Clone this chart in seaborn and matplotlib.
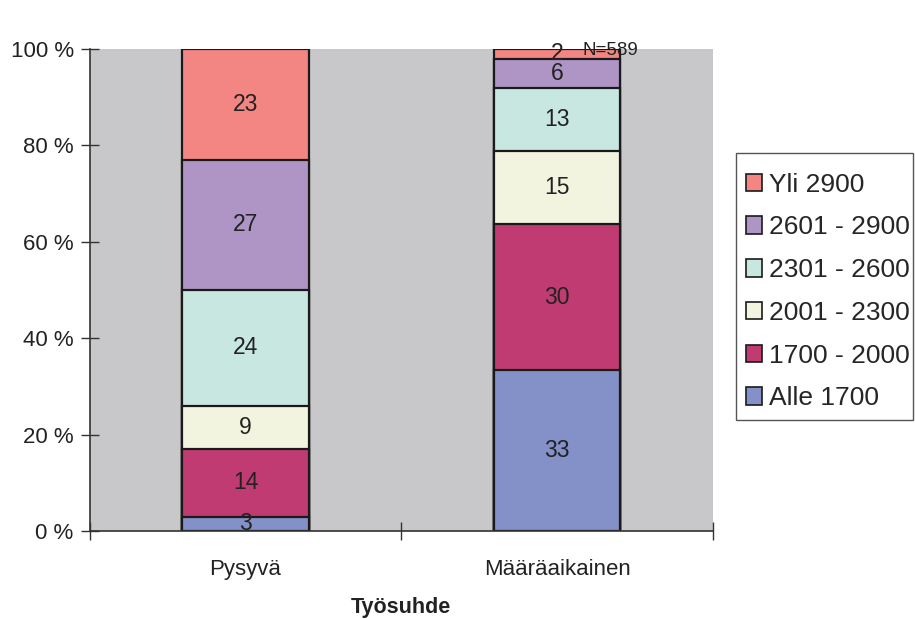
import numpy as np
import pandas as pd
import seaborn as sns
import matplotlib.pyplot as plt
from matplotlib.patches import Patch, Rectangle

# veriler
kategoriat = ["Pysyvä", "Määräaikainen"]
gruplar = ["Alle 1700", "1700 - 2000", "2001 - 2300", "2301 - 2600", "2601 - 2900", "Yli 2900"]
pysyva = [3, 14, 9, 24, 27, 23]
maaraaikainen = [33, 30, 15, 13, 6, 2]
renkler = ["#8490C8", "#C03B71", "#F3F4E0", "#C8E7E1", "#AE95C6", "#F38682"]

sns.set_style("white")
plt.rcParams["font.family"] = ["Liberation Sans", "DejaVu Sans"]

fig = plt.figure(figsize=(9.15, 6.19), dpi=100)
ax = fig.add_axes([0.098, 0.142, 0.681, 0.779])
ax.set_facecolor("#C8C8CA")

# yüzdeye çevir
veri = np.array([pysyva, maaraaikainen], dtype=float)
yuzde = veri / veri.sum(axis=1, keepdims=True) * 100
kumulatif = yuzde.cumsum(axis=1)

df = pd.DataFrame(kumulatif, columns=gruplar)
df["Tyosuhde"] = kategoriat

# üstten alta çiz (yığılmış)
for i in range(len(gruplar) - 1, -1, -1):
    sns.barplot(x="Tyosuhde", y=gruplar[i], data=df, color=renkler[i],
                width=0.405, edgecolor="#1a1a1a", linewidth=1.6, ax=ax,
                saturation=1)

# etiketler
for j in range(len(kategoriat)):
    for i in range(len(gruplar)):
        alt = kumulatif[j, i] - yuzde[j, i]
        ax.text(j, alt + yuzde[j, i] / 2, str(int(veri[j, i])), ha="center",
                va="center", fontsize=16.5, color="#222222")

ax.set_xlim(-0.5, 1.5)
ax.set_ylim(0, 100)
ax.set_yticks([0, 20, 40, 60, 80, 100])
ax.set_yticklabels(["0 %", "20 %", "40 %", "60 %", "80 %", "100 %"], fontsize=16, color="#222222")
ax.tick_params(axis="y", direction="inout", length=13, width=1, color="#333333", left=True, pad=5)
ax.set_xticks([0, 1])
ax.set_xticklabels(kategoriat, fontsize=16, color="#222222")
ax.set_xticks([-0.5, 0.5, 1.5], minor=True)
ax.tick_params(axis="x", which="major", length=0, pad=20)
ax.tick_params(axis="x", which="minor", direction="inout", length=13, width=1, color="#333333", bottom=True)

ax.set_ylabel("")
ax.set_xlabel("Työsuhde", fontsize=15.5, fontweight="bold", labelpad=12, color="#222222")

for s in ["top", "right"]:
    ax.spines[s].set_visible(False)
ax.spines["left"].set_color("#333333")
ax.spines["bottom"].set_color("#333333")
ax.spines["left"].set_linewidth(1.2)
ax.spines["bottom"].set_linewidth(1.2)

fig.text(0.637, 0.919, "N=589", fontsize=13.5, color="#222222", ha="left", va="center")

# lejant (çerçeve ayrı çiziliyor)
tutamaclar = [Patch(facecolor=renkler[i], edgecolor="#1a1a1a", linewidth=1.2, label=gruplar[i])
              for i in range(len(gruplar) - 1, -1, -1)]
leg = fig.legend(handles=tutamaclar, loc="upper left", bbox_to_anchor=(0.815, 0.721),
                 frameon=False, fontsize=19, handlelength=0.6,
                 handleheight=0.65, handletextpad=0.28, labelspacing=0.71,
                 borderpad=0, borderaxespad=0)
fig.patches.append(Rectangle((0.8044, 0.3215), 0.1934, 0.4313, transform=fig.transFigure,
                             fill=False, edgecolor="#555555", linewidth=1))

fig.savefig("out.png", dpi=100)
